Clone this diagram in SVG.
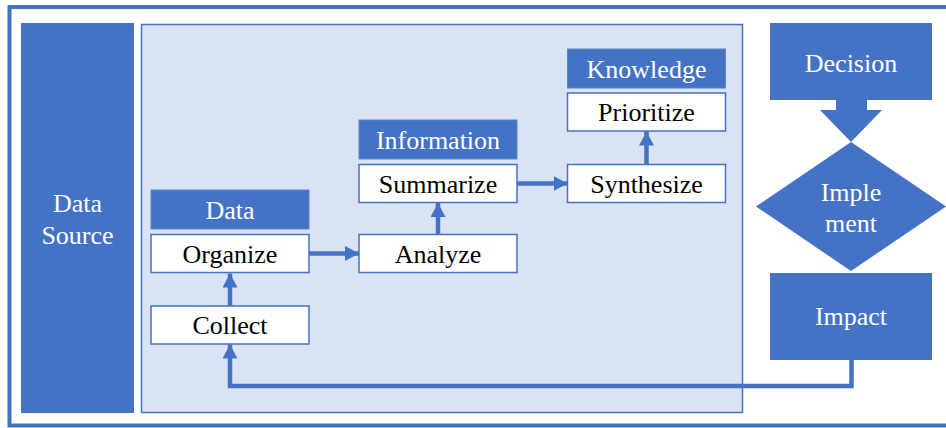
<svg xmlns="http://www.w3.org/2000/svg" width="946" height="428" viewBox="0 0 946 428">
  <style>
    .dark { fill: #4472C4; }
    .step { fill: #FFFFFF; stroke: #4472C4; stroke-width: 1.5; }
    .head { fill: #4472C4; stroke: #5B85CE; stroke-width: 1; }
    .lbl { font-family: 'Liberation Serif', 'DejaVu Serif', 'Times New Roman', serif; font-size: 26px; text-anchor: middle; }
    .w { fill: #FFFFFF; }
    .k { fill: #000000; }
    .conn { fill: none; stroke: #4472C4; stroke-width: 4.5; }
  </style>
  <defs>
    <marker id="arrow" markerUnits="userSpaceOnUse" markerWidth="16" markerHeight="16" refX="14" refY="7.5" orient="auto">
      <path d="M0,0 L14,7.5 L0,15 Z" fill="#4472C4"/>
    </marker>
  </defs>

  <!-- white canvas and outer frame -->
  <rect x="0" y="0" width="946" height="428" fill="#FFFFFF"/>
  <rect x="9.5" y="7" width="945" height="418.5" fill="none" stroke="#4472C4" stroke-width="4"/>

  <!-- data source column -->
  <g id="data-source">
    <rect class="dark" x="21" y="23" width="113" height="390"/>
    <text class="lbl w" x="77.5" y="212" font-family="Liberation Serif, serif">Data</text>
    <text class="lbl w" x="77.5" y="244" font-family="Liberation Serif, serif">Source</text>
  </g>

  <!-- processing panel -->
  <g id="panel">
    <rect x="141.5" y="24.5" width="601" height="388" fill="#DAE3F3" stroke="#4472C4" stroke-width="1.5"/>
  </g>

  <g id="data-header">
    <rect class="head" x="151" y="190" width="158" height="39"/>
    <text class="lbl w" x="230" y="218.5">Data</text>
  </g>
  <g id="organize">
    <rect class="step" x="151" y="234.5" width="158" height="38"/>
    <text class="lbl k" x="230" y="262.5">Organize</text>
  </g>
  <g id="collect">
    <rect class="step" x="151" y="306" width="158" height="38"/>
    <text class="lbl k" x="230" y="334">Collect</text>
  </g>
  <g id="analyze">
    <rect class="step" x="359" y="234.5" width="158" height="38"/>
    <text class="lbl k" x="438" y="262.5">Analyze</text>
  </g>
  <g id="information-header">
    <rect class="head" x="359" y="120" width="158" height="39"/>
    <text class="lbl w" x="438" y="148.5">Information</text>
  </g>
  <g id="summarize">
    <rect class="step" x="359" y="164.5" width="158" height="38"/>
    <text class="lbl k" x="438" y="192.5">Summarize</text>
  </g>
  <g id="synthesize">
    <rect class="step" x="567.5" y="164.5" width="158" height="38"/>
    <text class="lbl k" x="646.5" y="192.5">Synthesize</text>
  </g>
  <g id="knowledge-header">
    <rect class="head" x="567.5" y="49" width="158" height="39"/>
    <text class="lbl w" x="646.5" y="77.5">Knowledge</text>
  </g>
  <g id="prioritize">
    <rect class="step" x="567.5" y="93" width="158" height="38"/>
    <text class="lbl k" x="646.5" y="121">Prioritize</text>
  </g>

  <!-- decision flow on the right -->
  <g id="decision">
    <rect class="dark" x="770" y="23" width="162" height="77"/>
    <text class="lbl w" x="851" y="72">Decision</text>
  </g>
  <g id="decision-arrow">
    <path class="dark" d="M836,99 L867,99 L867,110 L882,110 L851,142 L820,110 L836,110 Z"/>
  </g>
  <g id="implement">
    <path class="dark" d="M851,142 L946,206.5 L851,271 L756,206.5 Z"/>
    <text class="lbl w" x="851" y="201">Imple</text>
    <text class="lbl w" x="851" y="232">ment</text>
  </g>
  <g id="impact">
    <rect class="dark" x="770" y="273" width="162" height="87"/>
    <text class="lbl w" x="851" y="325">Impact</text>
  </g>

  <!-- connectors -->
  <g id="connectors">
    <line class="conn" x1="230" y1="306" x2="230" y2="273.5" marker-end="url(#arrow)"/>
    <line class="conn" x1="309" y1="253.5" x2="359" y2="253.5" marker-end="url(#arrow)"/>
    <line class="conn" x1="438" y1="234.5" x2="438" y2="203" marker-end="url(#arrow)"/>
    <line class="conn" x1="517" y1="183.5" x2="567.5" y2="183.5" marker-end="url(#arrow)"/>
    <line class="conn" x1="646.5" y1="164.5" x2="646.5" y2="131.5" marker-end="url(#arrow)"/>
    <polyline class="conn" points="851.5,360 851.5,386 230,386 230,344.5" marker-end="url(#arrow)"/>
  </g>
</svg>
